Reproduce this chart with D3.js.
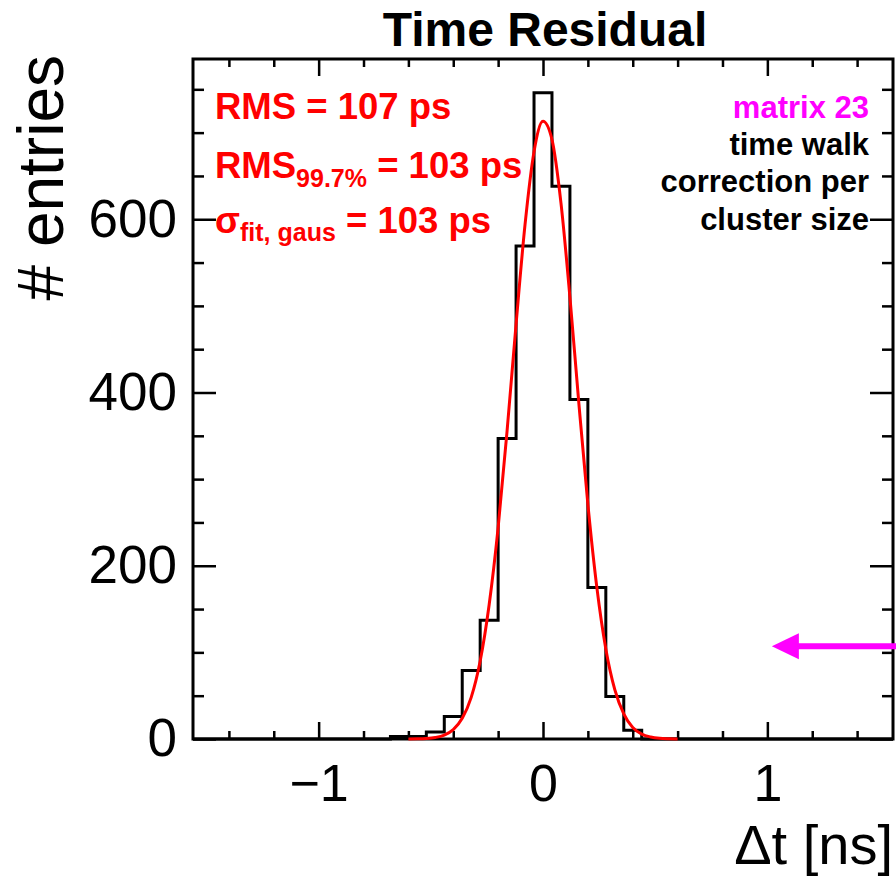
<!DOCTYPE html>
<html>
<head>
<meta charset="utf-8">
<script src="https://cdn.jsdelivr.net/npm/d3@7"></script>
<style>
  body { margin: 0; background: #fff; }
  text { font-family: "Liberation Sans", Arial, Helvetica, sans-serif; }
</style>
</head>
<body>
<script>
// histogram bins (lower edge in ns, width 0.08 ns) and counts
const binWidth = 0.08;
const binLow = [-0.76, -0.68, -0.60, -0.52, -0.44, -0.36, -0.28, -0.20, -0.12, -0.04, 0.04, 0.12, 0.20, 0.28, 0.36, 0.44];
const binCounts = [0, 3, 3, 8, 26, 79, 137, 347, 569, 746, 638, 392, 175, 49, 10, 0];

// red gaussian fit curve
const fitX = [-0.60, -0.56, -0.52, -0.48, -0.44, -0.40, -0.36, -0.32, -0.28, -0.24, -0.20, -0.16, -0.12, -0.08, -0.04, 0.00,
              0.04, 0.08, 0.12, 0.16, 0.20, 0.24, 0.28, 0.32, 0.36, 0.40, 0.44, 0.48, 0.52, 0.56, 0.60];
const fitY = [0.1, 0.2, 0.6, 1.8, 4.6, 10.9, 23.9, 48, 90, 155, 244, 356, 479, 594, 678, 713,
              692, 619, 510, 387, 271, 175, 104, 57, 29, 13.3, 5.7, 2.3, 0.8, 0.3, 0.1];

// axes
const xDomain = [-1.56, 1.56];
const yDomain = [0, 785];
const xMajorTicks = [-1, 0, 1];
const xMinorTicks = [-1.4, -1.2, -0.8, -0.6, -0.4, -0.2, 0.2, 0.4, 0.6, 0.8, 1.2, 1.4];
const yMajorTicks = [0, 200, 400, 600];
const yMinorTicks = [50, 100, 150, 250, 300, 350, 450, 500, 550, 650, 700, 750];

// magenta arrow (pointing left) at this y value
const arrowY = 107;
const arrowFrom = 1.58;
const arrowTo = 1.02;

function main(){
    const width = 896;
    const height = 876;
    const left = 193, right = 893, top = 59, bottom = 739; // plot frame

    const svg = d3.select('body')
        .append('svg')
        .attr('width', width)
        .attr('height', height);

    const x = d3.scaleLinear().domain(xDomain).range([left, right]);
    const y = d3.scaleLinear().domain(yDomain).range([bottom, top]);

    // ticks on all four sides, pointing inwards (ROOT style)
    function tickAxis(axis, tr, vals, size, pad, labels){
        const g = svg.append('g')
            .attr('transform', tr)
            .call(axis.tickValues(vals).tickSize(-size).tickPadding(pad)
                .tickFormat(labels ? d3.format('d') : ''));
        g.select('.domain').remove();
        g.selectAll('line').attr('stroke', '#000').attr('stroke-width', 2.5);
        return g;
    }
    const xb = tickAxis(d3.axisBottom(x), `translate(0,${bottom})`, xMajorTicks, 17, 25, true);
    tickAxis(d3.axisBottom(x), `translate(0,${bottom})`, xMinorTicks, 8, 0, false);
    tickAxis(d3.axisTop(x), `translate(0,${top})`, xMajorTicks, 17, 0, false);
    tickAxis(d3.axisTop(x), `translate(0,${top})`, xMinorTicks, 8, 0, false);
    const yl = tickAxis(d3.axisLeft(y), `translate(${left},0)`, yMajorTicks, 23, 16, true);
    tickAxis(d3.axisLeft(y), `translate(${left},0)`, yMinorTicks, 11, 0, false);
    tickAxis(d3.axisRight(y), `translate(${right},0)`, yMajorTicks, 23, 0, false);
    tickAxis(d3.axisRight(y), `translate(${right},0)`, yMinorTicks, 11, 0, false);

    xb.selectAll('text').attr('font-size', 52).attr('fill', '#000')
        .attr('font-family', '"Liberation Sans", Arial, sans-serif');
    yl.selectAll('text').attr('font-size', 53).attr('fill', '#000')
        .attr('font-family', '"Liberation Sans", Arial, sans-serif');

    // frame
    svg.append('rect')
        .attr('x', left).attr('y', top)
        .attr('width', right - left).attr('height', bottom - top)
        .attr('fill', 'none').attr('stroke', '#000').attr('stroke-width', 3);

    // histogram as a step line
    const steps = [[xDomain[0], 0]];
    binLow.forEach((b, i) => steps.push([b, binCounts[i]]));
    steps.push([binLow[binLow.length - 1] + binWidth, 0]);
    steps.push([xDomain[1], 0]);
    svg.append('path')
        .attr('d', d3.line().x(d => x(d[0])).y(d => y(d[1])).curve(d3.curveStepAfter)(steps))
        .attr('fill', 'none').attr('stroke', '#000').attr('stroke-width', 3);

    // fit
    svg.append('path')
        .attr('d', d3.line().x((d, i) => x(fitX[i])).y(d => y(d)).curve(d3.curveMonotoneX)(fitY))
        .attr('fill', 'none').attr('stroke', '#ff0000').attr('stroke-width', 3);

    // arrow
    const ay = y(arrowY), tip = x(arrowTo);
    svg.append('line')
        .attr('x1', x(arrowFrom)).attr('x2', tip + 20)
        .attr('y1', ay).attr('y2', ay)
        .attr('stroke', '#ff00ff').attr('stroke-width', 6);
    svg.append('path')
        .attr('d', `M${tip},${ay} L${tip + 27},${ay - 13} L${tip + 27},${ay + 13} Z`)
        .attr('fill', '#ff00ff');

    // title + axis titles
    svg.append('text')
        .attr('x', 545).attr('y', 46)
        .attr('text-anchor', 'middle')
        .attr('font-size', 48).attr('font-weight', 'bold')
        .text('Time Residual');

    svg.append('text')
        .attr('transform', 'translate(63,55) rotate(-90)')
        .attr('text-anchor', 'end')
        .attr('font-size', 64)
        .text('# entries');

    svg.append('text')
        .attr('x', right).attr('y', 864)
        .attr('text-anchor', 'end')
        .attr('font-size', 56)
        .text('\u0394t [ns]');

    // red stats text
    const red = svg.append('g').attr('fill', '#ff0000').attr('font-weight', 'bold');
    red.append('text').attr('x', 215).attr('y', 119).attr('font-size', 36.5).text('RMS = 107 ps');

    const l2 = red.append('text').attr('x', 215).attr('y', 178).attr('font-size', 36.5);
    l2.append('tspan').text('RMS');
    l2.append('tspan').attr('font-size', 25).attr('dy', 9).text('99.7%');
    l2.append('tspan').attr('dy', -9).text(' = 103 ps');

    const l3 = red.append('text').attr('x', 215).attr('y', 233).attr('font-size', 36.5);
    l3.append('tspan').text('\u03c3');
    l3.append('tspan').attr('font-size', 25).attr('dy', 8).text('fit, gaus');
    l3.append('tspan').attr('dy', -8).text(' = 103 ps');

    // right-hand labels
    const lines = [['matrix 23', '#ff00ff', 118], ['time walk', '#000', 155],
                   ['correction per', '#000', 192], ['cluster size', '#000', 230]];
    lines.forEach(l => {
        svg.append('text')
            .attr('x', 869).attr('y', l[2])
            .attr('text-anchor', 'end')
            .attr('font-size', 31).attr('font-weight', 'bold')
            .attr('fill', l[1])
            .text(l[0]);
    });
}
main();
</script>
</body>
</html>
